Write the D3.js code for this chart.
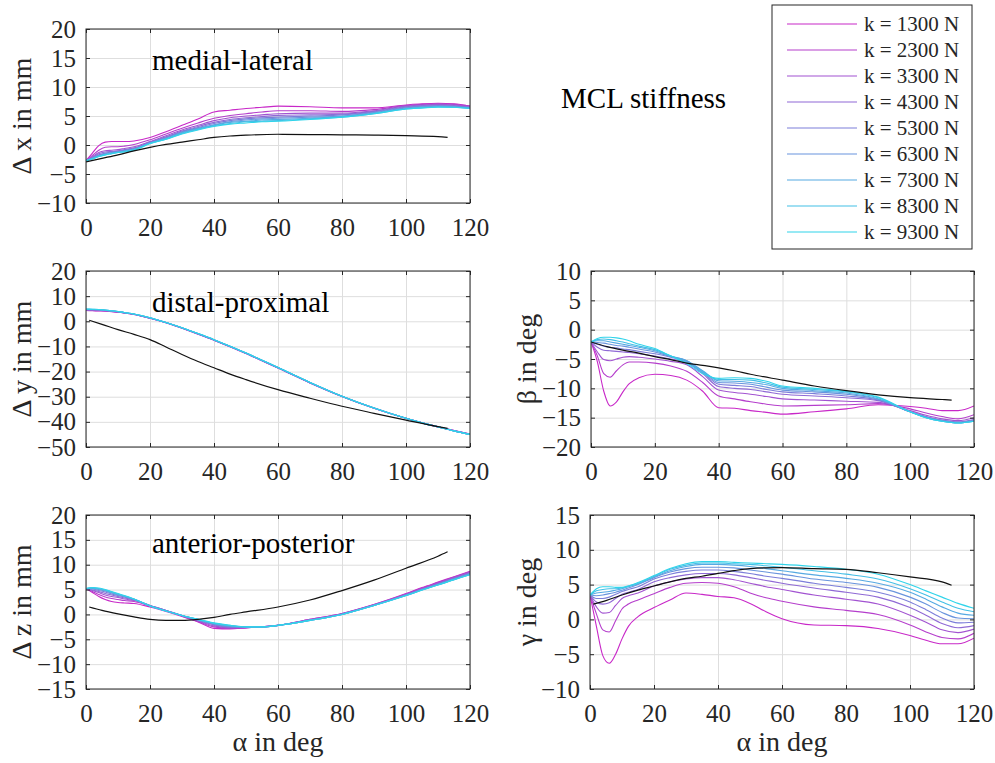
<!DOCTYPE html>
<html><head><meta charset="utf-8">
<script src="https://cdn.jsdelivr.net/npm/d3@7"></script>
<style>
html,body{margin:0;padding:0;background:#fff;}
svg{display:block;}
</style></head>
<body><svg id="c" width="995" height="763"></svg>
<script>
// ---------------- DATA ----------------
const stiffness = [1300,2300,3300,4300,5300,6300,7300,8300,9300];
const legendLabels = stiffness.map(k => "k = " + k + " N");
const xTicks = [0,20,40,60,80,100,120];
const alpha = [0,2,4,6,8,10,12,15,20,25,30,35,40,45,50,55,60,70,80,90,100,105,110,115,120];
const alphaRef = [1,5,10,15,20,25,30,35,40,45,50,60,70,80,90,100,110,113];
const alphaRef0 = [0,5,10,15,20,25,30,35,40,45,50,60,70,80,90,100,110,113];

// medial-lateral  dx
const dx1300=[-2.7,-1.4,-0.1,0.5,0.6,0.6,0.6,0.7,1.3,2.3,3.4,4.5,5.7,6.0,6.3,6.5,6.7,6.6,6.4,6.4,6.9,7.1,7.2,7.1,6.7];
const dx2300=[-2.7,-1.8,-0.9,-0.4,-0.3,-0.3,-0.2,0.1,0.9,1.9,2.9,3.8,4.6,5.1,5.4,5.7,5.9,5.9,5.8,6.1,6.8,7.0,7.1,7.0,6.7];
const dx3300=[-2.7,-2.0,-1.3,-1.0,-0.9,-0.8,-0.6,-0.3,0.6,1.6,2.6,3.4,4.2,4.7,5.0,5.2,5.4,5.5,5.5,5.9,6.7,6.9,7.0,6.9,6.6];
const dx4300=[-2.7,-2.1,-1.5,-1.2,-1.1,-1.0,-0.8,-0.5,0.5,1.4,2.4,3.2,3.9,4.4,4.7,4.9,5.1,5.2,5.3,5.8,6.6,6.8,6.9,6.8,6.5];
const dx5300=[-2.7,-2.2,-1.7,-1.4,-1.2,-1.1,-0.9,-0.6,0.4,1.3,2.3,3.0,3.7,4.2,4.5,4.7,4.8,5.0,5.2,5.7,6.5,6.7,6.8,6.7,6.5];
const dx6300=[-2.7,-2.3,-1.8,-1.5,-1.3,-1.2,-1.0,-0.7,0.4,1.2,2.2,2.9,3.5,4.0,4.3,4.5,4.6,4.8,5.0,5.6,6.4,6.6,6.7,6.6,6.4];
const dx7300=[-2.7,-2.3,-1.9,-1.6,-1.4,-1.2,-1.1,-0.8,0.3,1.1,2.1,2.8,3.4,3.9,4.1,4.3,4.4,4.6,4.9,5.5,6.3,6.5,6.6,6.5,6.4];
const dx8300=[-2.7,-2.4,-2.0,-1.7,-1.5,-1.3,-1.1,-0.8,0.3,1.0,2.0,2.7,3.3,3.7,4.0,4.1,4.2,4.5,4.8,5.4,6.2,6.4,6.6,6.5,6.3];
const dx9300=[-2.7,-2.4,-2.0,-1.7,-1.5,-1.3,-1.2,-0.9,0.2,1.0,1.9,2.6,3.2,3.6,3.8,4.0,4.1,4.4,4.8,5.4,6.2,6.4,6.5,6.5,6.3];
const dxRef=[-2.9,-2.3,-1.7,-1.0,-0.4,0.1,0.5,0.9,1.3,1.55,1.7,1.85,1.8,1.75,1.7,1.6,1.45,1.3];

// distal-proximal  dy
const dy1300=[4.3,4.2,4.1,4.0,3.8,3.6,3.3,2.7,1.2,-0.6,-2.8,-5.1,-7.5,-10.1,-12.8,-15.7,-18.6,-24.5,-29.9,-34.6,-38.6,-40.4,-42.0,-43.5,-44.9];
const dy2300=[4.4,4.3,4.2,4.1,3.9,3.7,3.3,2.7,1.2,-0.6,-2.7,-5.1,-7.5,-10.1,-12.8,-15.7,-18.6,-24.5,-29.9,-34.6,-38.6,-40.4,-42.0,-43.5,-44.9];
const dy3300=[4.5,4.4,4.3,4.2,4.0,3.7,3.4,2.8,1.3,-0.6,-2.7,-5.0,-7.4,-10.0,-12.7,-15.6,-18.5,-24.4,-29.9,-34.5,-38.6,-40.4,-42.0,-43.5,-44.9];
const dy4300=[4.6,4.5,4.4,4.3,4.0,3.8,3.4,2.8,1.3,-0.5,-2.7,-5.0,-7.4,-10.0,-12.7,-15.6,-18.5,-24.4,-29.8,-34.5,-38.6,-40.4,-42.0,-43.6,-45.0];
const dy5300=[4.7,4.6,4.5,4.3,4.1,3.8,3.4,2.8,1.3,-0.5,-2.7,-5.0,-7.4,-10.0,-12.7,-15.6,-18.5,-24.4,-29.8,-34.5,-38.6,-40.4,-42.0,-43.6,-45.0];
const dy6300=[4.7,4.7,4.6,4.4,4.1,3.8,3.4,2.8,1.3,-0.5,-2.6,-5.0,-7.3,-9.9,-12.6,-15.5,-18.4,-24.3,-29.8,-34.5,-38.6,-40.4,-42.0,-43.6,-45.0];
const dy7300=[4.8,4.7,4.6,4.4,4.2,3.9,3.5,2.9,1.4,-0.5,-2.6,-4.9,-7.3,-9.9,-12.6,-15.5,-18.4,-24.3,-29.8,-34.5,-38.6,-40.4,-42.0,-43.6,-45.0];
const dy8300=[4.8,4.8,4.7,4.5,4.2,3.9,3.5,2.9,1.4,-0.5,-2.6,-4.9,-7.3,-9.9,-12.6,-15.5,-18.4,-24.3,-29.8,-34.5,-38.6,-40.4,-42.0,-43.6,-45.0];
const dy9300=[4.9,4.8,4.7,4.5,4.2,3.9,3.5,2.9,1.4,-0.5,-2.6,-4.9,-7.3,-9.9,-12.6,-15.5,-18.4,-24.3,-29.8,-34.5,-38.6,-40.4,-42.0,-43.6,-45.0];
const dyRef=[0.4,-1.2,-3.3,-5.2,-7.3,-10.2,-13.2,-16.0,-18.5,-21.0,-23.2,-27.2,-30.6,-33.8,-36.6,-39.3,-41.9,-42.6];

// anterior-posterior  dz
const dz1300=[5.2,4.4,3.6,3.0,2.6,2.4,2.3,2.2,1.5,0.6,-0.4,-1.5,-2.8,-2.9,-2.7,-2.5,-2.2,-1.0,0.2,2.0,4.2,5.4,6.5,7.6,8.7];
const dz2300=[5.2,4.6,4.0,3.5,3.2,3.0,2.8,2.6,1.7,0.8,-0.3,-1.4,-2.5,-2.8,-2.7,-2.5,-2.2,-1.0,0.2,2.0,4.1,5.3,6.4,7.5,8.6];
const dz3300=[5.2,4.8,4.4,3.9,3.6,3.4,3.1,2.8,1.8,0.8,-0.3,-1.3,-2.3,-2.7,-2.6,-2.5,-2.2,-1.1,0.1,1.9,4.0,5.2,6.3,7.4,8.5];
const dz4300=[5.2,4.9,4.6,4.2,3.9,3.6,3.3,2.9,1.8,0.8,-0.2,-1.2,-2.1,-2.6,-2.6,-2.5,-2.2,-1.1,0.1,1.9,4.0,5.1,6.2,7.3,8.4];
const dz5300=[5.2,5.1,4.8,4.5,4.1,3.8,3.5,3.0,1.8,0.8,-0.2,-1.1,-2.0,-2.5,-2.6,-2.5,-2.2,-1.1,0.1,1.9,3.9,5.0,6.1,7.2,8.3];
const dz6300=[5.2,5.2,5.0,4.7,4.3,3.9,3.6,3.0,1.7,0.7,-0.2,-1.1,-1.9,-2.4,-2.5,-2.5,-2.2,-1.2,0.0,1.8,3.9,5.0,6.0,7.1,8.2];
const dz7300=[5.2,5.3,5.1,4.8,4.4,4.0,3.7,3.1,1.7,0.7,-0.2,-1.0,-1.8,-2.3,-2.5,-2.5,-2.2,-1.2,0.0,1.8,3.8,4.9,6.0,7.0,8.1];
const dz8300=[5.2,5.4,5.2,4.9,4.5,4.1,3.7,3.1,1.7,0.7,-0.2,-1.0,-1.8,-2.2,-2.5,-2.5,-2.2,-1.2,0.0,1.8,3.8,4.9,5.9,7.0,8.0];
const dz9300=[5.2,5.4,5.3,5.0,4.6,4.2,3.8,3.1,1.7,0.7,-0.2,-1.0,-1.7,-2.2,-2.5,-2.5,-2.2,-1.2,0.0,1.8,3.8,4.9,5.9,7.0,8.0];
const dzRef=[1.5,0.8,0.1,-0.5,-1.0,-1.2,-1.2,-1.0,-0.6,0.0,0.5,1.5,2.9,4.8,6.9,9.3,11.7,12.6];

// beta
const b1300=[-2.1,-5.5,-10.5,-13.0,-12.3,-10.6,-9.2,-8.2,-7.6,-7.8,-8.6,-10.5,-13.3,-13.4,-13.8,-14.1,-14.4,-14.0,-13.5,-12.8,-13.1,-13.4,-13.8,-13.8,-13.0];
const b2300=[-2.1,-4.5,-7.5,-8.1,-7.0,-6.0,-5.5,-5.5,-5.7,-6.2,-7.1,-9.0,-11.3,-11.8,-12.3,-12.7,-13.0,-12.9,-12.8,-12.6,-13.5,-14.2,-14.8,-15.2,-14.5];
const b3300=[-2.1,-3.8,-5.1,-5.3,-5.0,-4.7,-4.6,-4.7,-5.0,-5.4,-6.0,-8.0,-10.3,-10.7,-11.0,-11.4,-11.8,-12.0,-12.2,-12.4,-13.8,-14.6,-15.2,-15.5,-15.0];
const b4300=[-2.1,-3.0,-3.5,-3.6,-3.7,-3.8,-3.9,-4.1,-4.5,-5.0,-5.6,-7.5,-9.7,-10.0,-10.2,-10.6,-11.0,-11.3,-11.6,-12.1,-14.0,-14.8,-15.4,-15.7,-15.3];
const b5300=[-2.1,-2.5,-2.8,-3.0,-3.1,-3.3,-3.4,-3.7,-4.1,-4.7,-5.4,-7.3,-9.3,-9.5,-9.7,-10.2,-10.6,-10.9,-11.3,-12.0,-14.0,-14.9,-15.5,-15.8,-15.4];
const b6300=[-2.1,-2.2,-2.3,-2.5,-2.7,-2.8,-3.0,-3.3,-3.8,-4.6,-5.3,-7.1,-9.0,-9.1,-9.3,-9.8,-10.3,-10.6,-11.0,-11.9,-14.0,-14.9,-15.5,-15.8,-15.5];
const b7300=[-2.1,-1.9,-1.9,-2.1,-2.3,-2.5,-2.7,-3.0,-3.6,-4.5,-5.3,-7.0,-8.7,-8.8,-9.0,-9.4,-10.0,-10.4,-10.8,-11.8,-14.0,-15.0,-15.6,-15.9,-15.6];
const b8300=[-2.1,-1.7,-1.6,-1.7,-1.9,-2.1,-2.4,-2.8,-3.4,-4.5,-5.6,-7.2,-8.5,-8.5,-8.6,-9.1,-9.8,-10.2,-10.6,-11.6,-14.0,-15.0,-15.6,-15.9,-15.6];
const b9300=[-2.1,-1.5,-1.3,-1.3,-1.4,-1.6,-1.9,-2.5,-3.2,-4.5,-5.8,-7.5,-8.3,-8.2,-8.3,-8.8,-9.6,-10.0,-10.5,-11.5,-14.0,-15.0,-15.6,-15.9,-15.6];
const bRef=[-2.1,-2.9,-3.5,-4.0,-4.6,-5.1,-5.7,-6.1,-6.5,-7.0,-7.6,-8.6,-9.6,-10.4,-11.1,-11.6,-11.9,-12.0];

// gamma
const g1300=[3.5,-1.0,-5.2,-6.3,-5.0,-2.8,-1.0,0.4,1.7,2.8,3.8,3.6,3.3,3.1,2.3,1.1,0.1,-0.8,-0.9,-1.3,-2.3,-3.0,-3.5,-3.5,-2.7];
const g2300=[3.5,0.8,-1.5,-1.8,-0.2,1.5,2.2,2.8,3.7,4.6,5.2,5.3,5.2,4.7,3.8,3.1,2.6,1.8,1.3,0.7,-0.8,-1.8,-2.6,-2.8,-2.0];
const g3300=[3.5,1.8,0.9,1.0,2.0,3.0,3.4,3.8,4.8,5.4,5.8,6.0,6.0,5.7,5.2,4.7,4.3,3.5,2.9,2.2,0.6,-0.4,-1.5,-1.9,-1.4];
const g4300=[3.5,2.5,2.2,2.4,3.0,3.6,3.9,4.3,5.4,6.0,6.4,6.6,6.6,6.4,6.0,5.6,5.2,4.5,3.9,3.2,1.7,0.6,-0.6,-1.2,-0.9];
const g5300=[3.5,3.0,3.0,3.2,3.6,4.0,4.3,4.7,5.8,6.5,6.9,7.1,7.1,6.9,6.6,6.2,5.9,5.2,4.6,3.9,2.5,1.4,0.2,-0.5,-0.4];
const g6300=[3.5,3.4,3.5,3.7,3.9,4.2,4.5,5.0,6.0,6.8,7.3,7.5,7.5,7.4,7.1,6.8,6.5,5.8,5.3,4.6,3.2,2.2,1.0,0.2,0.1];
const g7300=[3.5,3.8,3.9,4.0,4.2,4.4,4.7,5.1,6.1,7.0,7.6,7.9,7.9,7.8,7.6,7.3,7.0,6.4,5.9,5.2,3.9,2.9,1.8,0.9,0.6];
const g8300=[3.5,4.1,4.3,4.4,4.4,4.5,4.8,5.2,6.2,7.2,7.8,8.1,8.1,8.0,7.9,7.7,7.5,7.0,6.5,5.8,4.4,3.5,2.5,1.6,1.1];
const g9300=[3.5,4.4,4.7,4.7,4.6,4.6,4.8,5.3,6.3,7.3,8.0,8.3,8.3,8.2,8.1,8.0,7.9,7.6,7.2,6.5,5.0,4.1,3.2,2.3,1.6];
const gRef=[2.2,2.7,3.5,4.2,4.8,5.4,5.9,6.2,6.6,7.0,7.3,7.45,7.3,7.2,6.7,6.1,5.4,4.9];

// tick labels
const yTicksDx=[-10,-5,0,5,10,15,20];
const yTicksDy=[-50,-40,-30,-20,-10,0,10,20];
const yTicksDz=[-15,-10,-5,0,5,10,15,20];
const yTicksB=[-20,-15,-10,-5,0,5,10];
const yTicksG=[-10,-5,0,5,10,15];

// ---------------- CHART ----------------
const FONT = "Liberation Serif";
const svg = d3.select("#c");
const colorScale = d3.scaleLinear().domain([0,8]).range(["#c828c8","#30d4ea"]).interpolate(d3.interpolateRgb);

const panels = [
  {box:[86,470,29,203], dom:[-10,20], ticks:yTicksDx, series:[dx1300,dx2300,dx3300,dx4300,dx5300,dx6300,dx7300,dx8300,dx9300], ref:dxRef, refX:alphaRef0,
   ylabel:"Δ x in mm", ylx:31, note:"medial-lateral", noteXY:[152,70], xlabel:false},
  {box:[86,470,271,447], dom:[-50,20], ticks:yTicksDy, series:[dy1300,dy2300,dy3300,dy4300,dy5300,dy6300,dy7300,dy8300,dy9300], ref:dyRef, refX:alphaRef,
   ylabel:"Δ y in mm", ylx:31, note:"distal-proximal", noteXY:[152,312], xlabel:false},
  {box:[86,470,515,689], dom:[-15,20], ticks:yTicksDz, series:[dz1300,dz2300,dz3300,dz4300,dz5300,dz6300,dz7300,dz8300,dz9300], ref:dzRef, refX:alphaRef,
   ylabel:"Δ z in mm", ylx:31, note:"anterior-posterior", noteXY:[152,553], xlabel:true},
  {box:[591,974,271,447], dom:[-20,10], ticks:yTicksB, series:[b1300,b2300,b3300,b4300,b5300,b6300,b7300,b8300,b9300], ref:bRef, refX:alphaRef0,
   ylabel:"β in deg", ylx:536, note:null, xlabel:false},
  {box:[590,974,515,689], dom:[-10,15], ticks:yTicksG, series:[g1300,g2300,g3300,g4300,g5300,g6300,g7300,g8300,g9300], ref:gRef, refX:alphaRef,
   ylabel:"γ in deg", ylx:536, note:null, xlabel:true}
];

const axisColor = "#262626";

panels.forEach(p => {
  const [x0,x1,y0,y1] = p.box;
  const x = d3.scaleLinear().domain([0,120]).range([x0,x1]);
  const y = d3.scaleLinear().domain(p.dom).range([y1,y0]);
  const g = svg.append("g");

  // grid
  g.append("g").attr("transform",`translate(0,${y1})`)
    .call(d3.axisBottom(x).tickValues(xTicks).tickSize(-(y1-y0)).tickFormat(""))
    .call(s=>{s.select(".domain").remove(); s.selectAll("line").attr("stroke","#dedede").attr("stroke-width",1);});
  g.append("g").attr("transform",`translate(${x0},0)`)
    .call(d3.axisLeft(y).tickValues(p.ticks).tickSize(-(x1-x0)).tickFormat(""))
    .call(s=>{s.select(".domain").remove(); s.selectAll("line").attr("stroke","#dedede").attr("stroke-width",1);});

  // lines
  const clipId = "clip"+x0+"_"+y0;
  svg.append("clipPath").attr("id",clipId).append("rect").attr("x",x0).attr("y",y0).attr("width",x1-x0).attr("height",y1-y0);
  const line = d3.line().x(d=>x(d[0])).y(d=>y(d[1])).curve(d3.curveMonotoneX);
  const lg = g.append("g").attr("clip-path",`url(#${clipId})`);
  p.series.forEach((s,i) => {
    lg.append("path").datum(alpha.map((a,j)=>[a,s[j]]))
      .attr("d",line).attr("fill","none").attr("stroke",colorScale(i)).attr("stroke-width",1.1);
  });
  lg.append("path").datum(p.refX.map((a,j)=>[a,p.ref[j]]))
    .attr("d",line).attr("fill","none").attr("stroke","#111").attr("stroke-width",1.2);

  // inward ticks
  const tk = 4;
  g.append("g").attr("transform",`translate(0,${y1})`).call(d3.axisBottom(x).tickValues(xTicks).tickSize(-tk).tickFormat(""))
    .call(s=>{s.select(".domain").remove(); s.selectAll("line").attr("stroke",axisColor);});
  g.append("g").attr("transform",`translate(0,${y0})`).call(d3.axisTop(x).tickValues(xTicks).tickSize(-tk).tickFormat(""))
    .call(s=>{s.select(".domain").remove(); s.selectAll("line").attr("stroke",axisColor);});
  g.append("g").attr("transform",`translate(${x0},0)`).call(d3.axisLeft(y).tickValues(p.ticks).tickSize(-tk).tickFormat(""))
    .call(s=>{s.select(".domain").remove(); s.selectAll("line").attr("stroke",axisColor);});
  g.append("g").attr("transform",`translate(${x1},0)`).call(d3.axisRight(y).tickValues(p.ticks).tickSize(-tk).tickFormat(""))
    .call(s=>{s.select(".domain").remove(); s.selectAll("line").attr("stroke",axisColor);});

  // box
  g.append("rect").attr("x",x0).attr("y",y0).attr("width",x1-x0).attr("height",y1-y0)
    .attr("fill","none").attr("stroke",axisColor).attr("stroke-width",1);

  // tick labels
  g.append("g").attr("transform",`translate(0,${y1})`)
    .call(d3.axisBottom(x).tickValues(xTicks).tickSize(0).tickPadding(15).tickFormat(d3.format("d")))
    .call(s=>{s.select(".domain").remove(); s.attr("font-family",FONT);
      s.selectAll("text").style("font-family",FONT).style("font-size","25px").attr("fill",axisColor);});
  g.append("g").attr("transform",`translate(${x0},0)`)
    .call(d3.axisLeft(y).tickValues(p.ticks).tickSize(0).tickPadding(10).tickFormat(d3.format("d")))
    .call(s=>{s.select(".domain").remove(); s.attr("font-family",FONT);
      s.selectAll("text").style("font-family",FONT).style("font-size","25px").attr("fill",axisColor);});

  // y label
  g.append("text").attr("transform",`translate(${p.ylx},${(y0+y1)/2}) rotate(-90)`)
    .attr("text-anchor","middle").style("font-family",FONT).style("font-size","28px").attr("fill",axisColor).text(p.ylabel);
  if (p.xlabel) {
    g.append("text").attr("x",(x0+x1)/2).attr("y",751).attr("text-anchor","middle")
      .style("font-family",FONT).style("font-size","28px").attr("fill",axisColor).text("α in deg");
  }
  if (p.note) {
    g.append("text").attr("x",p.noteXY[0]).attr("y",p.noteXY[1]).style("font-family",FONT).style("font-size","29px").attr("fill","#000").text(p.note);
  }
});

// title
svg.append("text").attr("x",561).attr("y",108).style("font-family",FONT).style("font-size","29px").attr("fill","#000").text("MCL stiffness");

// legend
const leg = svg.append("g");
leg.append("rect").attr("x",772).attr("y",5).attr("width",200).attr("height",244)
  .attr("fill","#fff").attr("stroke",axisColor).attr("stroke-width",1);
legendLabels.forEach((t,i)=>{
  const yy = 24 + 26*i;
  leg.append("line").attr("x1",787).attr("x2",857).attr("y1",yy).attr("y2",yy)
    .attr("stroke",colorScale(i)).attr("stroke-width",1.1);
  leg.append("text").attr("x",864).attr("y",yy).attr("dy","0.35em").style("font-family",FONT).style("font-size","21px").attr("fill",axisColor).text(t);
});
</script></body></html>
